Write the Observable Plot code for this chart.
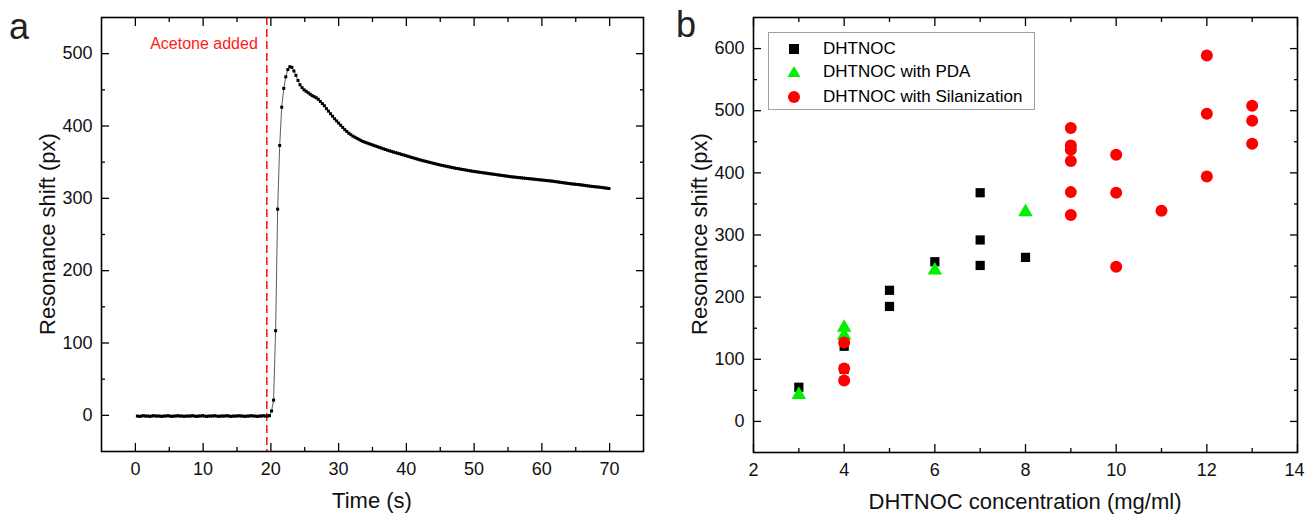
<!DOCTYPE html>
<html><head><meta charset="utf-8">
<script src="https://cdn.jsdelivr.net/npm/d3@7"></script>
<script src="https://cdn.jsdelivr.net/npm/@observablehq/plot@0.6"></script>
<style>
body{margin:0;background:#fff;font-family:"Liberation Sans",Arial,Helvetica,sans-serif;}
#wrap{position:relative;width:1306px;height:514px;overflow:hidden;}
#wrap > svg{position:absolute;top:0;font-family:"Liberation Sans",Arial,sans-serif;overflow:visible;}
.plabel{position:absolute;font-size:36px;line-height:1;color:#222;}
#legend{position:absolute;left:768px;top:32px;width:267px;height:78px;border:1px solid #a0a0a0;box-sizing:border-box;background:#fff;}
#legend .row{position:absolute;left:0;height:20px;display:flex;align-items:center;font-size:17px;color:#000;white-space:nowrap;}
#legend svg{display:block;}
#titles{position:absolute;left:0;top:0;pointer-events:none;}
</style></head><body>
<div id="wrap"></div>
<script>
// ---------- Panel a: time trace ----------
const timeS = [0.3,0.6,0.9,1.2,1.5,1.8,2.1,2.4,2.7,3.0,
3.3,3.6,3.9,4.2,4.5,4.8,5.1,5.4,5.7,6.0,
6.3,6.6,6.9,7.2,7.5,7.8,8.1,8.4,8.7,9.0,
9.3,9.6,9.9,10.2,10.5,10.8,11.1,11.4,11.7,12.0,
12.3,12.6,12.9,13.2,13.5,13.8,14.1,14.4,14.7,15.0,
15.3,15.6,15.9,16.2,16.5,16.8,17.1,17.4,17.7,18.0,
18.3,18.6,18.9,19.2,19.5,19.8,20.1,20.4,20.7,21.0,
21.3,21.6,21.9,22.2,22.5,22.8,23.1,23.4,23.7,24.0,
24.3,24.6,24.9,25.2,25.5,25.8,26.1,26.4,26.7,27.0,
27.3,27.6,27.9,28.2,28.5,28.8,29.1,29.4,29.7,30.0,
30.3,30.6,30.9,31.2,31.5,31.8,32.1,32.4,32.7,33.0,
33.3,33.6,33.9,34.2,34.5,34.8,35.1,35.4,35.7,36.0,
36.3,36.6,36.9,37.2,37.5,37.8,38.1,38.4,38.7,39.0,
39.3,39.6,39.9,40.2,40.5,40.8,41.1,41.4,41.7,42.0,
42.3,42.6,42.9,43.2,43.5,43.8,44.1,44.4,44.7,45.0,
45.3,45.6,45.9,46.2,46.5,46.8,47.1,47.4,47.7,48.0,
48.3,48.6,48.9,49.2,49.5,49.8,50.1,50.4,50.7,51.0,
51.3,51.6,51.9,52.2,52.5,52.8,53.1,53.4,53.7,54.0,
54.3,54.6,54.9,55.2,55.5,55.8,56.1,56.4,56.7,57.0,
57.3,57.6,57.9,58.2,58.5,58.8,59.1,59.4,59.7,60.0,
60.3,60.6,60.9,61.2,61.5,61.8,62.1,62.4,62.7,63.0,
63.3,63.6,63.9,64.2,64.5,64.8,65.1,65.4,65.7,66.0,
66.3,66.6,66.9,67.2,67.5,67.8,68.1,68.4,68.7,69.0,
69.3,69.6,69.9];
const shiftPx = [-1,-1.5,-1,-0.5,-1,-1,-1.5,-1,-0.5,-1,
-1,-1,-1.5,-1,-1,-0.5,-1,-1.5,-1,-1,
-0.5,-1,-1,-1.5,-1,-1,-1,-0.5,-1,-1.5,
-1,-1,-0.5,-1,-1.5,-1,-1,-1,-0.5,-1,
-1.5,-1,-1,-1,-0.5,-1,-1.5,-1,-1,-1,
-0.5,-1,-1,-1.5,-1,-1,-0.5,-1,-1,-1.5,
-1,-1,-0.5,-1,-1,-0.5,6,21,117,285,
373,426,452,468,478,482,481,476,470,463,
457,453,450,448,446,444,442,440.5,439,437,
434,431,428,424,420.5,417,413.5,410,407,404,
401,398,395,392.5,390,388,386,384.5,383,381.5,
380,378.5,377.5,376.5,375.5,374.5,373.5,372.5,371.5,370.5,
369.5,368.5,367.5,366.5,365.7,364.9,364,363.2,362.4,361.6,
360.7,359.9,359,358.2,357.4,356.5,355.7,354.9,354,353.2,
352.4,351.7,351,350.3,349.6,348.9,348.2,347.5,346.8,346.1,
345.5,344.9,344.3,343.7,343.1,342.5,341.9,341.4,340.9,340.4,
339.9,339.4,338.9,338.4,337.9,337.4,337,336.6,336.2,335.8,
335.4,335,334.6,334.2,333.8,333.4,333,332.6,332.2,331.8,
331.4,331,330.6,330.2,329.8,329.5,329.2,328.9,328.6,328.3,
328,327.7,327.4,327.1,326.8,326.5,326.2,325.9,325.6,325.3,
325,324.7,324.4,324.1,323.8,323.4,323,322.6,322.2,321.8,
321.4,321,320.6,320.2,319.9,319.6,319.3,319,318.7,318.3,
317.9,317.5,317.1,316.7,316.4,316.1,315.8,315.5,315.2,314.8,
314.4,314,313.6];
const acetoneTime = 19.4;
const acetoneLabel = "Acetone added";
const aXTitle = "Time (s)";
const aYTitle = "Resonance shift (px)";

const aXDomain = [-5, 75];
const aYDomain = [-50, 550];
const aXMajor = [0,10,20,30,40,50,60,70];
const aXMinor = [5,15,25,35,45,55,65];
const aYMajor = [0,100,200,300,400,500];
const aYMinor = [50,150,250,350,450];

// ---------- Panel b: concentration scatter ----------
const concDHTNOC  = [3,4,4,5,5,6,7,7,7,8];
const shiftDHTNOC = [55,121,84,185,211,257,368,292,251,264];
const concPDA  = [3,4,4,6,8];
const shiftPDA = [43,151,138,243,337];
const concSil  = [4,4,4,9,9,9,9,9,9,10,10,10,11,12,12,12,13,13,13];
const shiftSil = [127,85,66,472,444,437,419,369,332,429,368,249,339,589,495,394,508,484,447];
const seriesNames = ["DHTNOC","DHTNOC with PDA","DHTNOC with Silanization"];
const bXTitle = "DHTNOC concentration (mg/ml)";
const bYTitle = "Resonance shift (px)";

const bXDomain = [2, 14];
const bYDomain = [-50, 650];
const bXMajor = [2,4,6,8,10,12,14];
const bXMinor = [3,5,7,9,11,13];
const bYMajor = [0,100,200,300,400,500,600];
const bYMinor = [50,150,250,350,450,550];

function boxAxes(xMajor, xMinor, yMajor, yMinor, edgeLabel) {
  const tick = {fill: "none", stroke: "black", strokeWidth: 1.3, label: null};
  const lab = {anchor:"bottom", tickSize:0, tickPadding:11, fontSize:18, fill:"#111", label:null};
  const inner = edgeLabel == null ? xMajor : xMajor.filter(v => v !== edgeLabel);
  return [
    Plot.axisX(inner, lab),
    edgeLabel == null ? null : Plot.axisX([edgeLabel], {...lab, dx: -3}),
    Plot.axisY(yMajor, {anchor:"left", tickSize:0, tickPadding:9, fontSize:18, fill:"#111", label:null}),
    Plot.axisX(xMajor, {anchor:"bottom", tickSize:-8, ...tick}),
    Plot.axisX(xMajor, {anchor:"top", tickSize:-8, ...tick}),
    Plot.axisX(xMinor, {anchor:"bottom", tickSize:-4, ...tick}),
    Plot.axisX(xMinor, {anchor:"top", tickSize:-4, ...tick}),
    Plot.axisY(yMajor, {anchor:"left", tickSize:-8, ...tick}),
    Plot.axisY(yMajor, {anchor:"right", tickSize:-8, ...tick}),
    Plot.axisY(yMinor, {anchor:"left", tickSize:-4, ...tick}),
    Plot.axisY(yMinor, {anchor:"right", tickSize:-4, ...tick}),
    Plot.frame({stroke:"black", strokeWidth:1.6})
  ];
}

const trace = timeS.map((t, i) => ({t, v: shiftPx[i]}));

const plotA = Plot.plot({
  width: 653, height: 514,
  marginLeft: 101, marginRight: 10, marginTop: 17, marginBottom: 63,
  style: {fontFamily: '"Liberation Sans", Arial, sans-serif', background: "transparent"},
  x: {domain: aXDomain},
  y: {domain: aYDomain},
  marks: [
    Plot.ruleX([acetoneTime], {stroke: "#ff1a1a", strokeWidth: 1.6, strokeDasharray: "8,4"}),
    Plot.text([acetoneLabel], {x: () => acetoneTime, text: d => d, frameAnchor: "top", dy: 26, dx: -9,
      textAnchor: "end", lineAnchor: "middle", fill: "#ff1a1a", fontSize: 16}),
    Plot.line(trace, {x: "t", y: "v", stroke: "#333", strokeWidth: 0.8}),
    Plot.dot(trace, {x: "t", y: "v", symbol: "square", r: 1.7, fill: "black", stroke: "none"}),
    ...boxAxes(aXMajor, aXMinor, aYMajor, aYMinor, null)
  ]
});

const tbl = (xs, ys, name) => xs.map((c, i) => ({c, v: ys[i], s: name}));
const dataD = tbl(concDHTNOC, shiftDHTNOC, seriesNames[0]);
const dataP = tbl(concPDA, shiftPDA, seriesNames[1]);
const dataS = tbl(concSil, shiftSil, seriesNames[2]);

const plotB = Plot.plot({
  width: 653, height: 514,
  marginLeft: 100, marginRight: 9, marginTop: 17, marginBottom: 62,
  style: {fontFamily: '"Liberation Sans", Arial, sans-serif', background: "transparent"},
  x: {domain: bXDomain},
  y: {domain: bYDomain},
  marks: [
    Plot.dot(dataD, {x: "c", y: "v", symbol: "square", r: 5.2, fill: "black", stroke: "none"}),
    Plot.dot(dataP, {x: "c", y: "v", symbol: "triangle", r: 5.4, fill: "#00f000", stroke: "none"}),
    Plot.dot(dataS, {x: "c", y: "v", symbol: "circle", r: 6, fill: "#ff0000", stroke: "none"}),
    ...boxAxes(bXMajor, bXMinor, bYMajor, bYMinor, 14)
  ]
});

const wrap = document.getElementById("wrap");
plotA.style.left = "0px";
plotB.style.left = "653px";
wrap.appendChild(plotA);
wrap.appendChild(plotB);

// axis titles (overlay text)
const ns = "http://www.w3.org/2000/svg";
const tsvg = document.createElementNS(ns, "svg");
tsvg.setAttribute("id", "titles");
tsvg.setAttribute("width", 1306); tsvg.setAttribute("height", 514);
const titleSpecs = [
  {text: aXTitle, x: 372, y: 500, rot: 0},
  {text: aYTitle, x: 47, y: 234, rot: -90},
  {text: bXTitle, x: 1025, y: 501, rot: 0},
  {text: bYTitle, x: 699, y: 234, rot: -90}
];
titleSpecs.forEach(s => {
  const t = document.createElementNS(ns, "text");
  t.setAttribute("transform", `translate(${s.x},${s.y}) rotate(${s.rot})`);
  t.setAttribute("text-anchor", "middle");
  t.setAttribute("dominant-baseline", "central");
  t.setAttribute("font-size", "22");
  t.setAttribute("font-family", '"Liberation Sans", Arial, sans-serif');
  t.setAttribute("fill", "#111");
  t.textContent = s.text;
  tsvg.appendChild(t);
});
wrap.appendChild(tsvg);

// panel letters
const la = document.createElement("div"); la.className = "plabel"; la.textContent = "a";
la.style.left = "9px"; la.style.top = "9px"; wrap.appendChild(la);
const lb = document.createElement("div"); lb.className = "plabel"; lb.textContent = "b";
lb.style.left = "676px"; lb.style.top = "7px"; wrap.appendChild(lb);

// legend
const legend = document.createElement("div"); legend.id = "legend";
const symbols = [
  '<rect x="2" y="2" width="10" height="10" fill="black"/>',
  '<path d="M7 1 L13.5 12 L0.5 12 Z" fill="#00f000"/>',
  '<circle cx="7" cy="7" r="6" fill="#ff0000"/>'
];
const rowTops = [6, 29, 54];
seriesNames.forEach((name, i) => {
  const row = document.createElement("div"); row.className = "row";
  row.style.top = rowTops[i] + "px";
  row.innerHTML = '<span style="display:inline-block;width:54px;padding-left:18px;box-sizing:border-box"><svg width="14" height="14">' + symbols[i] + '</svg></span><span>' + name + '</span>';
  legend.appendChild(row);
});
wrap.appendChild(legend);
</script>
</body></html>
